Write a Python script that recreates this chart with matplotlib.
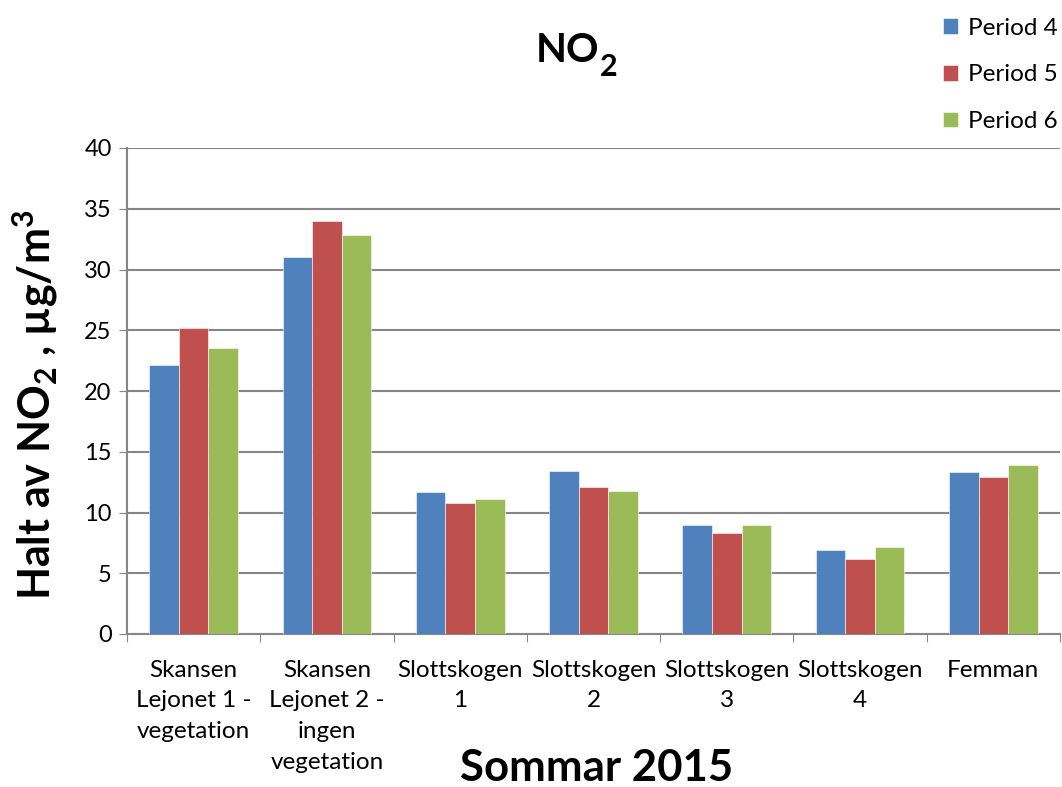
import numpy as np
import matplotlib
matplotlib.use("Agg")
import matplotlib.pyplot as plt

plt.rcParams['font.family'] = ['Lato', 'DejaVu Sans']
plt.rcParams['mathtext.fontset'] = 'custom'
plt.rcParams['mathtext.rm'] = 'Lato'
plt.rcParams['mathtext.bf'] = 'Lato:bold'

# NO2 concentrations per site and measuring period
sites = ['Skansen\nLejonet 1 -\nvegetation', 'Skansen\nLejonet 2 -\ningen\nvegetation',
         'Slottskogen\n1', 'Slottskogen\n2', 'Slottskogen\n3', 'Slottskogen\n4', 'Femman']
period4 = [22.1, 31.0, 11.7, 13.4, 9.0, 6.9, 13.3]
period5 = [25.2, 34.0, 10.8, 12.1, 8.3, 6.2, 12.9]
period6 = [23.5, 32.8, 11.1, 11.8, 9.0, 7.2, 13.95]
labels = ['Period 4', 'Period 5', 'Period 6']
colors = ['#4f81bd', '#c0504d', '#9bbb59']

fig = plt.figure(figsize=(10.62, 7.87), dpi=100)
ax = fig.add_axes([127/1062, 153/787, 933/1062, 486/787])

x = np.arange(len(sites))
w = 0.222
for i, (vals, lab, c) in enumerate(zip([period4, period5, period6], labels, colors)):
    ax.bar(x + (i - 1) * w, vals, width=w, color=c, label=lab, zorder=3,
           edgecolor='white', linewidth=0.4)

ax.set_xlim(-0.5, len(sites) - 0.5)
ax.set_ylim(0, 40)
ax.set_yticks(np.arange(0, 41, 5))
ax.tick_params(axis='y', labelsize=17, length=6, color='#868686', pad=5)

# category ticks sit on the group boundaries, labels centred beneath each group
ax.set_xticks(np.arange(-0.5, len(sites)), minor=False)
ax.set_xticklabels([])
ax.tick_params(axis='x', length=6, color='#868686')
for xi, s in zip(x, sites):
    ax.text(xi, -2.1, s, ha='center', va='top', fontsize=17.5, linespacing=1.58)

ax.grid(axis='y', color='#868686', linewidth=1.5, zorder=0)
for side in ['top', 'right']:
    ax.spines[side].set_visible(False)
ax.spines['left'].set_color('#868686')
ax.spines['bottom'].set_color('#868686')
ax.spines['left'].set_linewidth(1.5)
ax.spines['bottom'].set_linewidth(1.5)

# title with a large subscript, placed right after "NO"
t_no = fig.text(536/1062, 1 - 62/787, 'NO', ha='left', va='baseline',
                fontsize=29, fontweight='bold')
ax.annotate('2', xy=(1, 1 - 76/787), xycoords=(t_no, 'figure fraction'),
            xytext=(0, 0), textcoords='offset points', ha='left', va='baseline',
            fontsize=22, fontweight='bold', annotation_clip=False)

fig.text(597/1062, 1 - 781/787, 'Sommar 2015', ha='center', va='baseline',
         fontsize=31.5, fontweight='bold')
fig.text(35/1062, 1 - 405/787, r'Halt av NO$_\mathbf{2}$ , µg/m$^\mathbf{3}$',
         ha='center', va='center', rotation=90, fontsize=31, fontweight='bold')

fig.legend(loc='upper right', bbox_to_anchor=(1.007, 0.993), frameon=False, fontsize=17.5,
           handlelength=0.6, handleheight=0.6, handletextpad=0.4, labelspacing=1.06,
           borderaxespad=0.1)

fig.savefig('out.png', dpi=100)
